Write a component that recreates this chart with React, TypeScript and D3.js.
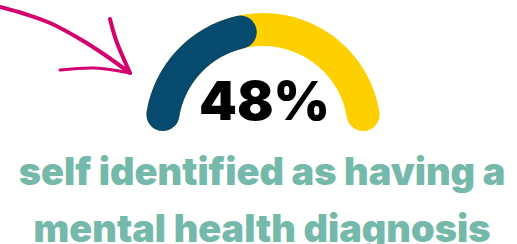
import React, { useEffect, useRef } from "react";
import * as d3 from "d3";

// gauge data
const gaugeValue = 48;
const gaugeMax = 100;
const valueLabel = "48%";
const captionLines = ["self identified as having a", "mental health diagnosis"];
// hand drawn arrow (decoration)
const arrowShaft: [number, number][] = [[0, 7], [25, 14], [50, 23], [80, 39], [105, 55], [130, 73]];
const arrowHeadTop: [number, number][] = [[110, 19], [116, 40], [130, 73]];
const arrowHeadBottom: [number, number][] = [[60, 70], [95, 68], [130, 73]];

export default function App() {
  const ref = useRef<SVGSVGElement>(null);

  useEffect(() => {
    const svg = d3.select(ref.current);
    svg.selectAll("*").remove();

    const width = 517;
    const cx = 263, cy = 131;
    const outerR = 118, innerR = 85;

    const angle = d3.scaleLinear().domain([0, gaugeMax]).range([-Math.PI / 2, Math.PI / 2]);
    const arc = d3.arc<any>()
      .innerRadius(innerR).outerRadius(outerR)
      .cornerRadius((outerR - innerR) / 2);

    const g = svg.append("g").attr("transform", `translate(${cx},${cy})`);
    g.append("path")
      .attr("d", arc({ startAngle: angle(0), endAngle: angle(gaugeMax) }))
      .attr("fill", "#fed000");
    g.append("path")
      .attr("d", arc({ startAngle: angle(0), endAngle: angle(gaugeValue) }))
      .attr("fill", "#064a6f");

    //value
    svg.append("text")
      .attr("x", 264.5).attr("y", 120)
      .attr("text-anchor", "middle")
      .attr("font-family", "Inter")
      .attr("font-weight", 900)
      .attr("font-size", 54)
      .attr("fill", "#000")
      .text(valueLabel);

    //caption
    const widths = [487, 457];
    captionLines.forEach((line, i) => {
      const t = svg.append("text")
        .attr("x", 262).attr("y", 185 + i * 57)
        .attr("text-anchor", "middle")
        .attr("font-family", "Inter")
        .attr("font-weight", 900)
        .attr("font-size", 38)
        .attr("fill", "#74b9a9")
        .text(line);
      const w = (t.node() as SVGTextElement).getComputedTextLength();
      t.attr("font-size", 38 * widths[i] / w);
    });

    //arrow
    const line = d3.line().curve(d3.curveCatmullRom);
    [arrowShaft, arrowHeadTop, arrowHeadBottom].forEach((pts, i) => {
      svg.append("path")
        .attr("d", line(pts))
        .attr("fill", "none")
        .attr("stroke", "#d4006e")
        .attr("stroke-width", i === 2 ? 3 : 4)
        .attr("stroke-linecap", "round");
    });
    svg.attr("width", width);
  }, []);

  return (
    <svg ref={ref} width={517} height={244}
      style={{ position: "absolute", left: 0, top: 0, background: "#fff" }} />
  );
}
